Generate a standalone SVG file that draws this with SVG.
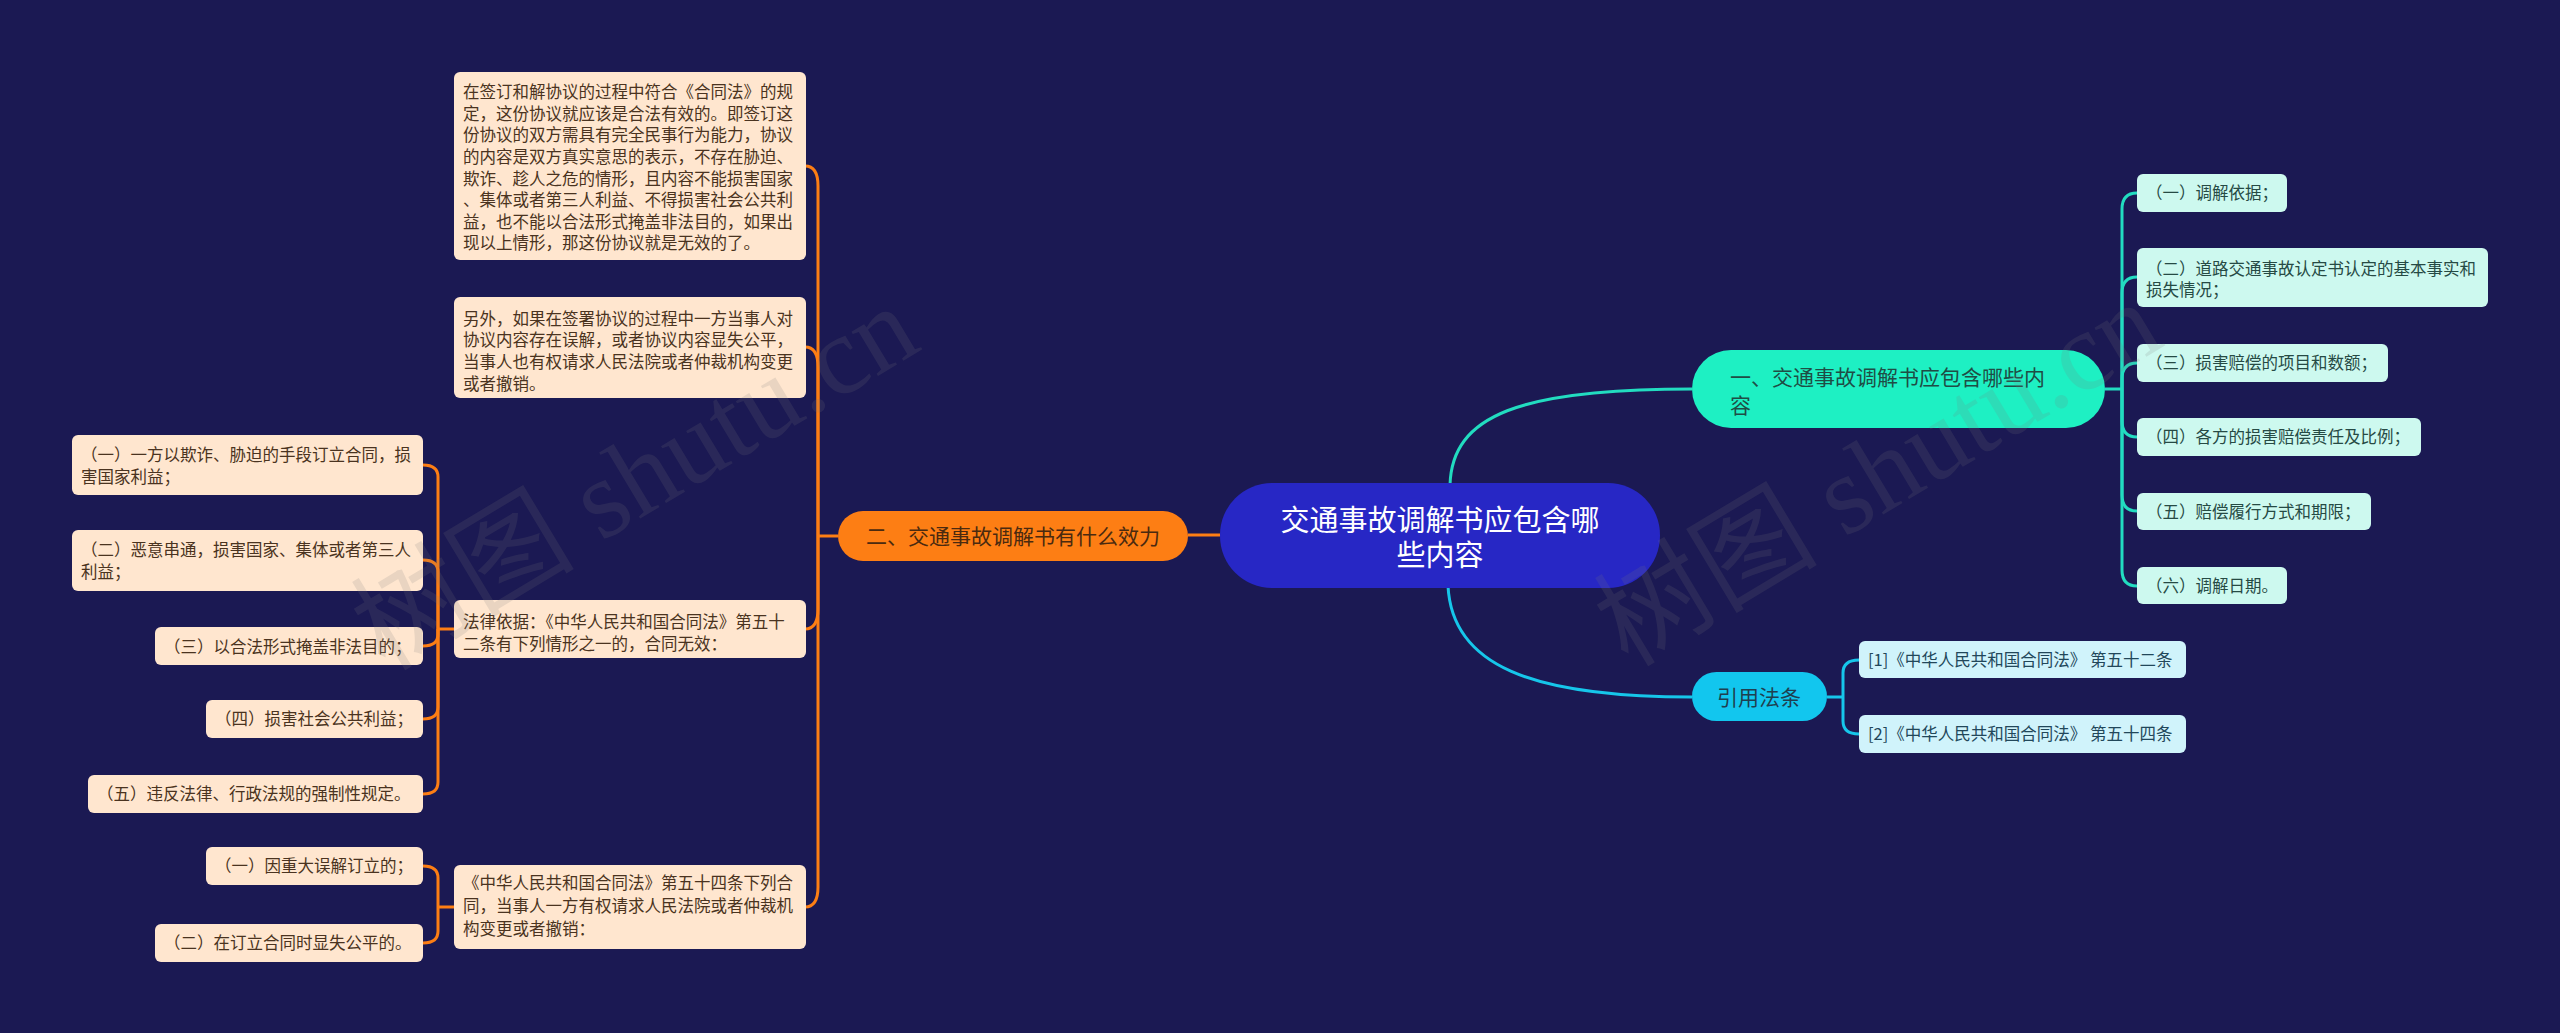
<svg xmlns="http://www.w3.org/2000/svg" width="2560" height="1033" viewBox="0 0 2560 1033">
<style>
text{font-family:"Noto Sans CJK SC","Noto Sans",sans-serif}
.peach{fill:#ffe6cf}
.pt{font-size:16.5px;fill:#4a3320}
.mint{fill:#cdf9ef}
.mt{font-size:16.5px;fill:#264a44}
.cy{fill:#d0f3fb}
.ct{font-size:16.5px;fill:#22475a}
.co{fill:none;stroke:#fd7e14;stroke-width:3}
.ct2{fill:none;stroke:#22dcc0;stroke-width:3}
.cc{fill:none;stroke:#16c6ea;stroke-width:3}
.wm{font-family:"Liberation Serif","Noto Sans CJK SC",serif;font-size:112px;fill:#7a7a7a;opacity:0.16}
</style>
<rect x="0" y="0" width="2560" height="1033" fill="#1b1953"/>

<g id="connectors">
  <path class="co" d="M1220 535 H1188"/>
  <path class="co" d="M838 536 H818"/>
  <path class="co" d="M818 536 V186 Q818 166 805 166"/>
  <path class="co" d="M818 536 V367 Q818 347 805 347"/>
  <path class="co" d="M818 536 V609 Q818 629 805 629"/>
  <path class="co" d="M818 536 V887 Q818 907 805 907"/>
  <path class="co" d="M454 629 H438"/>
  <path class="co" d="M438 629 V477 Q438 465 423 465"/>
  <path class="co" d="M438 629 V572 Q438 560 423 560"/>
  <path class="co" d="M438 629 V634 Q438 646 423 646"/>
  <path class="co" d="M438 629 V707 Q438 719 423 719"/>
  <path class="co" d="M438 629 V782 Q438 794 423 794"/>
  <path class="co" d="M454 907 H438"/>
  <path class="co" d="M438 907 V878 Q438 866 423 866"/>
  <path class="co" d="M438 907 V931 Q438 943 423 943"/>
  <path class="ct2" d="M1450 485 C1452 415 1520 389 1692 389"/>
  <path class="ct2" d="M2105 389 H2122"/>
  <path class="ct2" d="M2122 389 V209 Q2122 193 2137 193"/>
  <path class="ct2" d="M2122 389 V293 Q2122 277 2137 277"/>
  <path class="ct2" d="M2122 389 V379 Q2122 363 2137 363"/>
  <path class="ct2" d="M2122 389 V421 Q2122 437 2137 437"/>
  <path class="ct2" d="M2122 389 V495 Q2122 511 2137 511"/>
  <path class="ct2" d="M2122 389 V570 Q2122 586 2137 586"/>
  <path class="cc" d="M1448 586 C1452 665 1530 697 1692 697"/>
  <path class="cc" d="M1827 697 H1843"/>
  <path class="cc" d="M1843 697 V673 Q1843 660 1859 660"/>
  <path class="cc" d="M1843 697 V721 Q1843 734 1859 734"/>
</g>

<g id="center">
  <rect x="1220" y="483" width="440" height="105" rx="52" fill="#2727c5"/>
  <text x="1440" y="531" font-size="29" fill="#ffffff" text-anchor="middle">交通事故调解书应包含哪</text>
  <text x="1440" y="566" font-size="29" fill="#ffffff" text-anchor="middle">些内容</text>
</g>

<g id="branch-orange">
  <rect x="838" y="511" width="350" height="50" rx="25" fill="#fd7e14"/>
  <text x="1013" y="544" font-size="21" fill="#4a2a10" text-anchor="middle">二、交通事故调解书有什么效力</text>
</g>

<g id="branch-teal">
  <rect x="1692" y="350" width="413" height="78" rx="39" fill="#1ef0c3"/>
  <text x="1730" y="385" font-size="21" fill="#1f4d45">一、交通事故调解书应包含哪些内</text>
  <text x="1730" y="413" font-size="21" fill="#1f4d45">容</text>
</g>

<g id="branch-cite">
  <rect x="1692" y="672" width="135" height="49" rx="24.5" fill="#12c6ee"/>
  <text x="1759" y="705" font-size="21" fill="#1f3f50" text-anchor="middle">引用法条</text>
</g>

<g id="para1">
  <rect class="peach" x="454" y="72" width="352" height="188" rx="6"/>
  <text class="pt" x="463" y="98">在签订和解协议的过程中符合《合同法》的规</text>
  <text class="pt" x="463" y="119.5">定，这份协议就应该是合法有效的。即签订这</text>
  <text class="pt" x="463" y="141">份协议的双方需具有完全民事行为能力，协议</text>
  <text class="pt" x="463" y="163">的内容是双方真实意思的表示，不存在胁迫、</text>
  <text class="pt" x="463" y="184.5">欺诈、趁人之危的情形，且内容不能损害国家</text>
  <text class="pt" x="463" y="206">、集体或者第三人利益、不得损害社会公共利</text>
  <text class="pt" x="463" y="228">益，也不能以合法形式掩盖非法目的，如果出</text>
  <text class="pt" x="463" y="249">现以上情形，那这份协议就是无效的了。</text>
</g>

<g id="para2">
  <rect class="peach" x="454" y="297" width="352" height="101" rx="6"/>
  <text class="pt" x="463" y="324.5">另外，如果在签署协议的过程中一方当事人对</text>
  <text class="pt" x="463" y="346">协议内容存在误解，或者协议内容显失公平，</text>
  <text class="pt" x="463" y="368">当事人也有权请求人民法院或者仲裁机构变更</text>
  <text class="pt" x="463" y="389.5">或者撤销。</text>
</g>

<g id="law52">
  <rect class="peach" x="454" y="600" width="352" height="58" rx="6"/>
  <text class="pt" x="463" y="628">法律依据：《中华人民共和国合同法》第五十</text>
  <text class="pt" x="463" y="649.5">二条有下列情形之一的，合同无效：</text>
</g>

<g id="law54">
  <rect class="peach" x="454" y="865" width="352" height="84" rx="6"/>
  <text class="pt" x="463" y="889">《中华人民共和国合同法》第五十四条下列合</text>
  <text class="pt" x="463" y="912">同，当事人一方有权请求人民法院或者仲裁机</text>
  <text class="pt" x="463" y="935">构变更或者撤销：</text>
</g>

<g id="l52-1">
  <rect class="peach" x="72" y="435" width="351" height="60" rx="6"/>
  <text class="pt" x="81" y="461">（一）一方以欺诈、胁迫的手段订立合同，损</text>
  <text class="pt" x="81" y="483">害国家利益；</text>
</g>
<g id="l52-2">
  <rect class="peach" x="72" y="530" width="351" height="61" rx="6"/>
  <text class="pt" x="81" y="556">（二）恶意串通，损害国家、集体或者第三人</text>
  <text class="pt" x="81" y="578">利益；</text>
</g>
<g id="l52-3">
  <rect class="peach" x="155" y="627" width="268" height="38" rx="6"/>
  <text class="pt" x="164" y="653">（三）以合法形式掩盖非法目的；</text>
</g>
<g id="l52-4">
  <rect class="peach" x="206" y="700" width="217" height="38" rx="6"/>
  <text class="pt" x="215" y="725">（四）损害社会公共利益；</text>
</g>
<g id="l52-5">
  <rect class="peach" x="88" y="775" width="335" height="38" rx="6"/>
  <text class="pt" x="97" y="800">（五）违反法律、行政法规的强制性规定。</text>
</g>
<g id="l54-1">
  <rect class="peach" x="206" y="847" width="217" height="38" rx="6"/>
  <text class="pt" x="215" y="872">（一）因重大误解订立的；</text>
</g>
<g id="l54-2">
  <rect class="peach" x="155" y="924" width="268" height="38" rx="6"/>
  <text class="pt" x="164" y="949">（二）在订立合同时显失公平的。</text>
</g>

<g id="r1">
  <rect class="mint" x="2137" y="174" width="150" height="38" rx="6"/>
  <text class="mt" x="2146" y="199">（一）调解依据；</text>
</g>
<g id="r2">
  <rect class="mint" x="2137" y="248" width="351" height="59" rx="6"/>
  <text class="mt" x="2146" y="274.5">（二）道路交通事故认定书认定的基本事实和</text>
  <text class="mt" x="2146" y="296">损失情况；</text>
</g>
<g id="r3">
  <rect class="mint" x="2137" y="344" width="251" height="38" rx="6"/>
  <text class="mt" x="2146" y="369">（三）损害赔偿的项目和数额；</text>
</g>
<g id="r4">
  <rect class="mint" x="2137" y="418" width="284" height="38" rx="6"/>
  <text class="mt" x="2146" y="443">（四）各方的损害赔偿责任及比例；</text>
</g>
<g id="r5">
  <rect class="mint" x="2137" y="493" width="234" height="37" rx="6"/>
  <text class="mt" x="2146" y="518">（五）赔偿履行方式和期限；</text>
</g>
<g id="r6">
  <rect class="mint" x="2137" y="567" width="150" height="37" rx="6"/>
  <text class="mt" x="2146" y="592">（六）调解日期。</text>
</g>

<g id="cite1">
  <rect class="cy" x="1859" y="641" width="327" height="37" rx="6"/>
  <text class="ct" x="1868" y="666">[1]《中华人民共和国合同法》 第五十二条</text>
</g>
<g id="cite2">
  <rect class="cy" x="1859" y="715" width="327" height="38" rx="6"/>
  <text class="ct" x="1868" y="740">[2]《中华人民共和国合同法》 第五十四条</text>
</g>

<g id="watermarks">
  <text class="wm" x="0" y="0" transform="translate(385,672) rotate(-31)">树图 shutu.cn</text>
  <text class="wm" x="0" y="0" transform="translate(1628,668) rotate(-31)">树图 shutu.cn</text>
</g>
</svg>
